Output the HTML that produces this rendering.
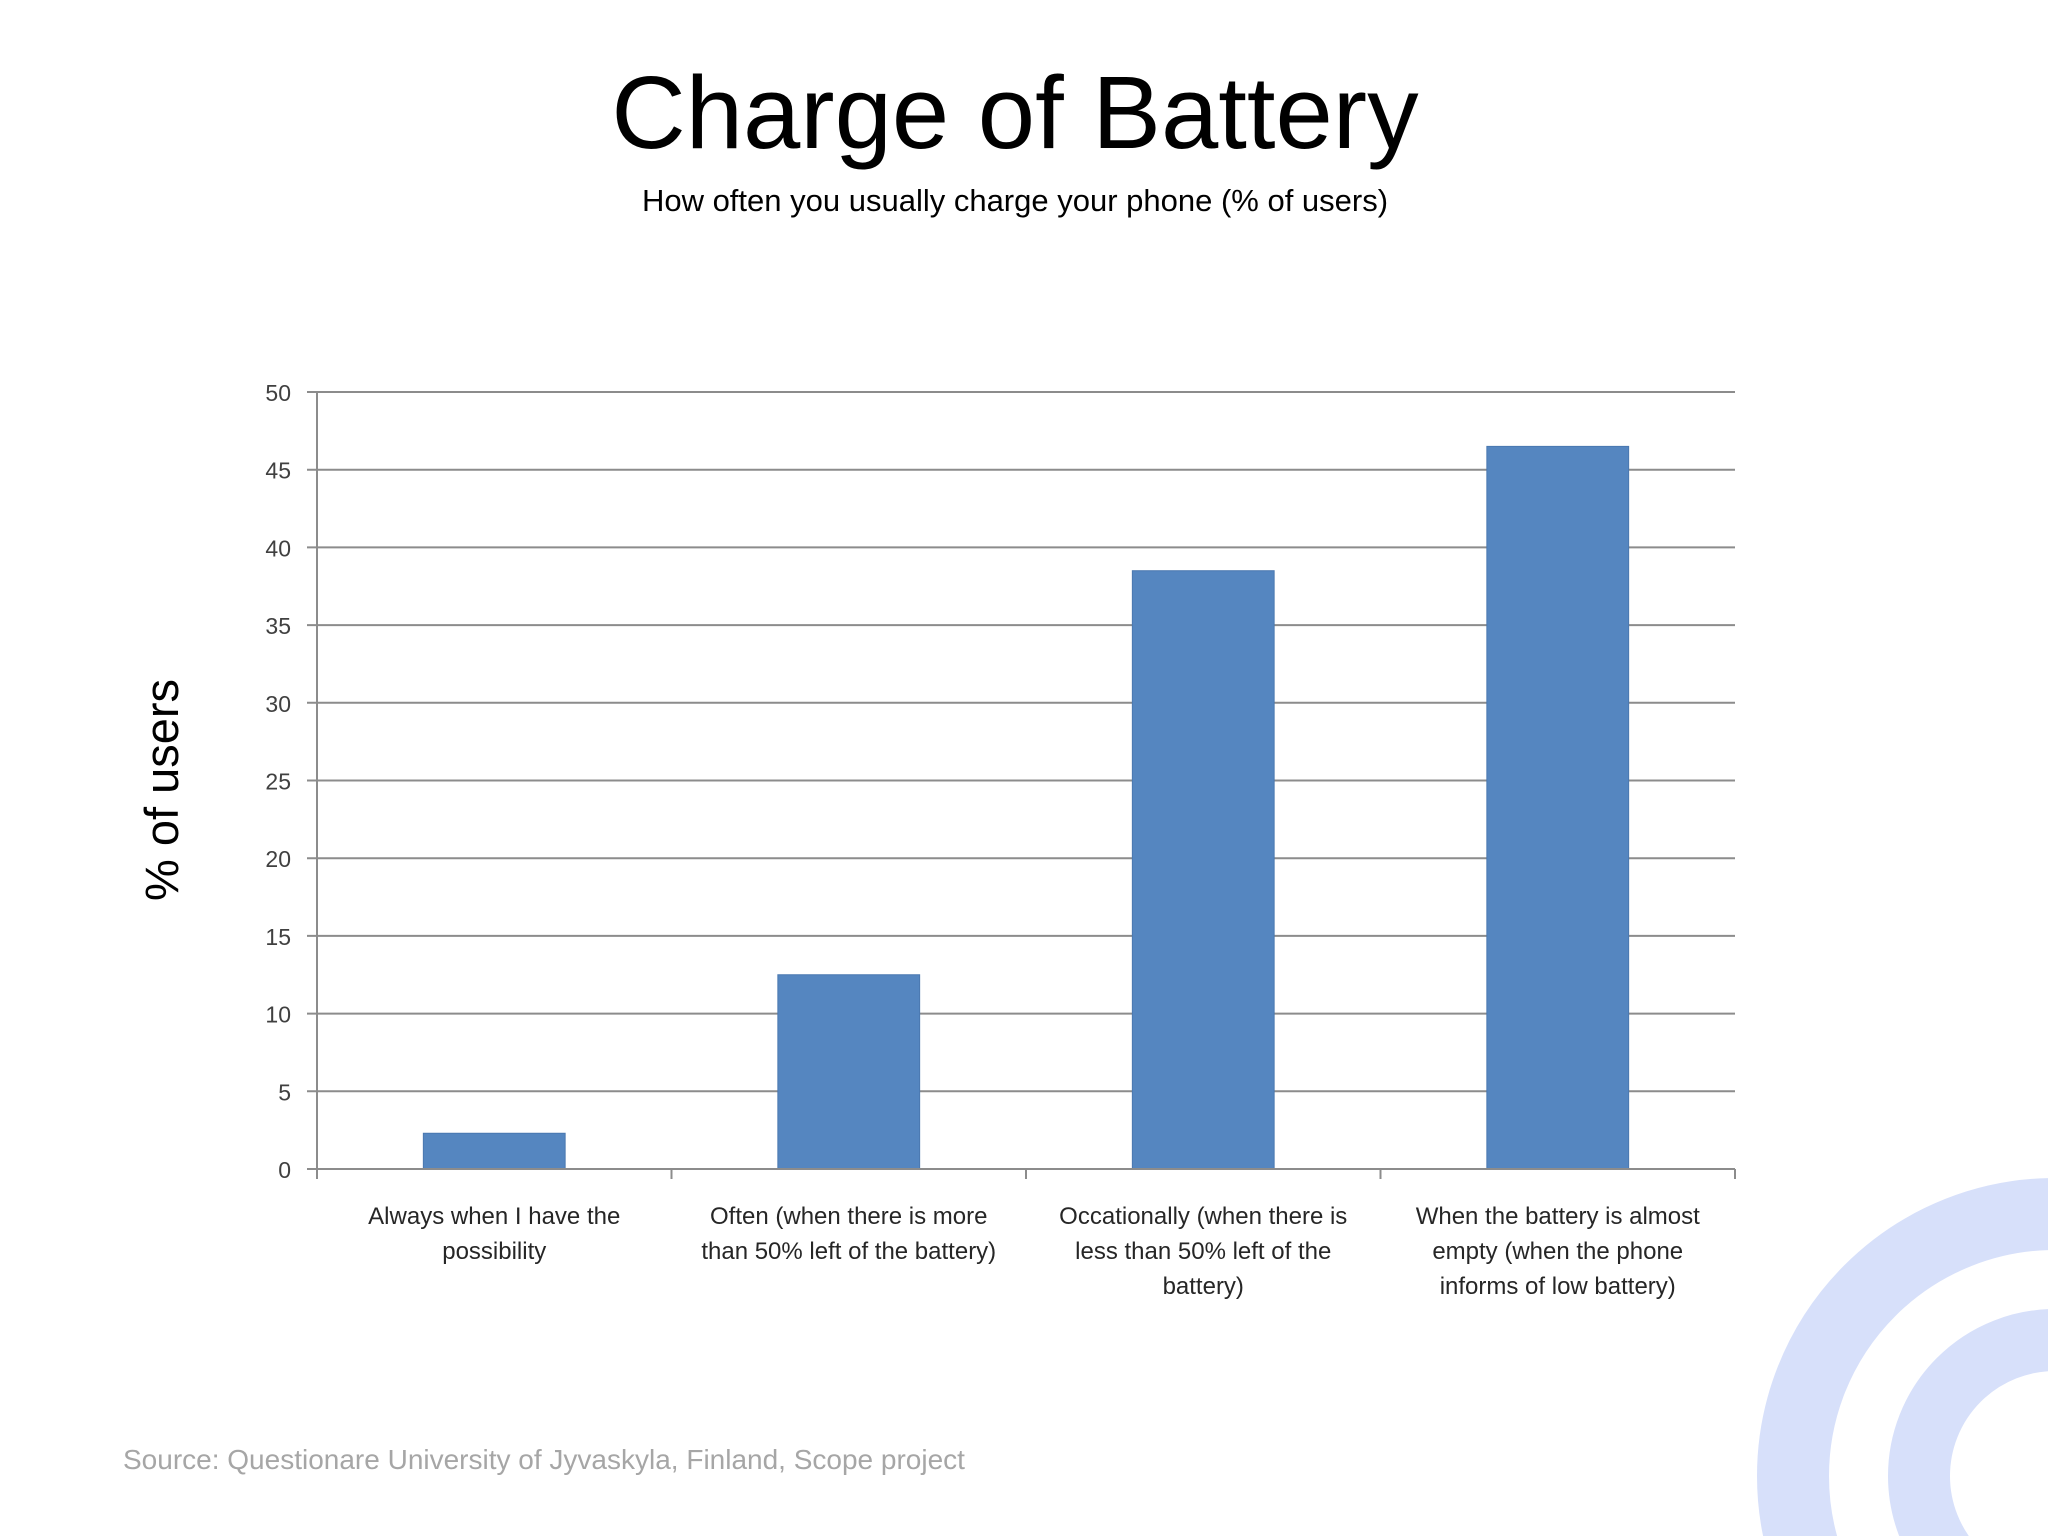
<!DOCTYPE html>
<html><head><meta charset="utf-8">
<style>
html,body{margin:0;padding:0;background:#fff;width:2048px;height:1536px;overflow:hidden;}
body{position:relative;font-family:"Liberation Sans",sans-serif;}
svg{display:block;}
</style></head>
<body>
<svg id="chart" width="2048" height="1536" viewBox="0 0 2048 1536" xmlns="http://www.w3.org/2000/svg" style="position:absolute;left:0;top:0;overflow:hidden">
  <defs><clipPath id="frame"><rect x="0" y="0" width="2048" height="1536"/></clipPath></defs>
  <g clip-path="url(#frame)">
    <circle cx="2055" cy="1476" r="262" fill="none" stroke="#d7e0fa" stroke-width="72"/>
    <circle cx="2055" cy="1476" r="136" fill="none" stroke="#d7e0fa" stroke-width="62"/>
  </g>
  <text x="1015" y="148" text-anchor="middle" font-size="103" fill="#000">Charge of Battery</text>
  <text x="1015" y="211" text-anchor="middle" font-size="31" fill="#000">How often  you usually charge your phone (% of users)</text>
  <text transform="translate(178,790) rotate(-90)" text-anchor="middle" font-size="47" fill="#000">% of users</text>
  <g id="grid"></g>
  <g id="bars"></g>
  <g id="axes"></g>
  <text x="123" y="1469" font-size="28" fill="#a6a6a6">Source: Questionare University of Jyvaskyla, Finland, Scope project</text>
</svg>
<script>
const categories=[["Always when I have the","possibility"],["Often (when there is more","than 50% left of the battery)"],["Occationally (when there is","less than 50% left of the","battery)"],["When the battery is almost","empty (when the phone","informs of low battery)"]];
const values=[2.3,12.5,38.5,46.5];
const yTicks=[0,5,10,15,20,25,30,35,40,45,50];
const NS="http://www.w3.org/2000/svg";
const L=317,R=1735,T=392,B=1169,yMax=50;
const y=v=>B-(v/yMax)*(B-T);
const cw=(R-L)/categories.length;
const x=i=>L+cw*i;
function mk(tag,attrs,parent){const e=document.createElementNS(NS,tag);for(const k in attrs)e.setAttribute(k,attrs[k]);parent.appendChild(e);return e;}
const grid=document.getElementById('grid'),bars=document.getElementById('bars'),axes=document.getElementById('axes');
yTicks.forEach(t=>{
  const ln=mk('line',{x1:L-10,x2:R,y1:y(t),y2:y(t),stroke:'#8c8c8c','stroke-width':2},grid);
  
  
  const tx=mk('text',{x:L-26,y:y(t)+9,'text-anchor':'end','font-size':23,fill:'#404040'},grid);
  tx.textContent=t;
  
  
});
const ya=mk('line',{x1:L,x2:L,y1:T,y2:B+10,stroke:'#8c8c8c','stroke-width':2},axes);


const xa=mk('line',{x1:L,x2:R,y1:B,y2:B,stroke:'#8c8c8c','stroke-width':2},axes);


for(let i=0;i<=categories.length;i++){
  const tk=mk('line',{x1:x(i),x2:x(i),y1:B,y2:B+10,stroke:'#8c8c8c','stroke-width':2},axes);
  
  
}
values.forEach((v,i)=>{
  const bw=cw*0.4;
  const r=mk('rect',{x:x(i)+(cw-bw)/2,y:y(v),width:bw,height:B-y(v),fill:'#5586c0',stroke:'#4a78b0','stroke-width':1},bars);
  
  
  const t=mk('text',{x:x(i)+cw/2,'text-anchor':'middle','font-size':24,fill:'#262626'},axes);
  
  
  categories[i].forEach((line,j)=>{const s=mk('tspan',{x:x(i)+cw/2,y:1224+j*35},t);s.textContent=line;});
});
</script>
</body></html>
